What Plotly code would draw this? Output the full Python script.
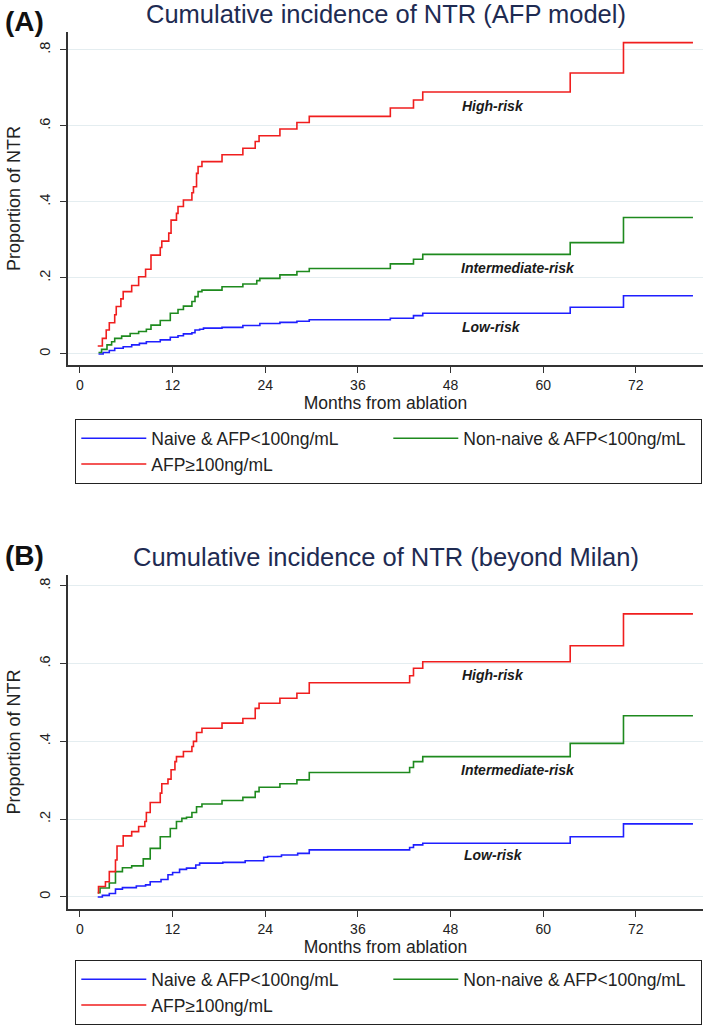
import plotly.graph_objects as go

# ---- data ----
series_names = ["Naive & AFP<100ng/mL", "Non-naive & AFP<100ng/mL", "AFP≥100ng/mL"]

# panel A: AFP model
a_naive_t = [2.4, 3.0, 3.8, 4.5, 5.6, 6.7, 7.7, 8.6, 10.4, 11.7, 12.7, 13.4, 14.5, 14.9, 15.5, 16.0,
             18.4, 21.1, 23.3, 25.9, 28.1, 29.7, 40.2, 43.2, 44.4, 63.5, 70.4, 79.4]
a_naive_v = [0.0, 0.004, 0.009, 0.015, 0.019, 0.024, 0.028, 0.032, 0.037, 0.044, 0.048, 0.053, 0.056, 0.063,
             0.065, 0.068, 0.070, 0.075, 0.080, 0.083, 0.086, 0.090, 0.094, 0.101, 0.107, 0.123, 0.153, 0.153]
a_nonnaive_t = [2.4, 2.8, 3.5, 4.1, 4.5, 5.4, 6.5, 7.6, 8.6, 9.2, 10.4, 11.7, 12.7, 13.4, 14.5, 14.9, 15.3,
                15.8, 18.4, 21.1, 22.9, 23.3, 25.9, 28.1, 29.7, 40.2, 43.2, 44.4, 63.5, 70.4, 79.4]
a_nonnaive_v = [0.004, 0.012, 0.024, 0.032, 0.041, 0.047, 0.054, 0.059, 0.065, 0.076, 0.088, 0.107, 0.117,
                0.126, 0.138, 0.151, 0.164, 0.168, 0.177, 0.184, 0.193, 0.199, 0.208, 0.217, 0.225, 0.237,
                0.249, 0.262, 0.293, 0.359, 0.359]
a_afp_t = [2.3, 2.9, 3.4, 3.8, 4.5, 4.7, 5.3, 5.6, 6.7, 7.6, 8.5, 9.2, 10.4, 10.6, 11.5, 11.8, 12.5, 12.7,
           13.4, 14.5, 14.7, 15.1, 15.3, 15.8, 18.4, 21.1, 22.7, 23.2, 25.9, 28.1, 29.7, 40.2, 43.2, 44.4,
           63.5, 70.4, 79.4]
a_afp_v = [0.021, 0.041, 0.063, 0.082, 0.103, 0.125, 0.145, 0.164, 0.180, 0.203, 0.223, 0.260, 0.280, 0.297,
           0.318, 0.352, 0.370, 0.388, 0.405, 0.424, 0.440, 0.475, 0.493, 0.506, 0.524, 0.541, 0.559, 0.574,
           0.592, 0.609, 0.625, 0.647, 0.668, 0.689, 0.739, 0.819, 0.819]

# panel B: beyond Milan
b_naive_t = [2.3, 2.9, 3.8, 4.6, 5.5, 7.3, 8.5, 9.1, 10.5, 11.4, 12.0, 12.9, 13.8, 15.0, 15.5, 18.5, 21.4,
             23.8, 24.3, 26.1, 28.2, 29.7, 42.7, 43.2, 44.4, 63.5, 70.4, 79.4]
b_naive_v = [0.0, 0.004, 0.009, 0.020, 0.024, 0.028, 0.031, 0.039, 0.045, 0.057, 0.063, 0.071, 0.074, 0.082,
             0.087, 0.089, 0.093, 0.102, 0.104, 0.108, 0.112, 0.121, 0.127, 0.134, 0.138, 0.155, 0.188, 0.188]
b_nonnaive_t = [2.3, 2.6, 3.8, 4.6, 5.5, 6.7, 8.2, 9.1, 10.4, 11.7, 12.5, 13.2, 13.8, 14.5, 15.1, 15.8, 18.4,
                21.1, 22.7, 23.2, 25.9, 28.1, 29.7, 42.7, 43.2, 44.4, 63.5, 70.4, 79.4]
b_nonnaive_v = [0.011, 0.023, 0.036, 0.065, 0.075, 0.080, 0.098, 0.125, 0.155, 0.176, 0.194, 0.202, 0.205,
                0.217, 0.232, 0.239, 0.248, 0.256, 0.271, 0.282, 0.291, 0.301, 0.320, 0.333, 0.348, 0.361,
                0.395, 0.466, 0.466]
b_afp_t = [2.3, 2.4, 3.3, 3.8, 4.6, 4.8, 5.6, 6.7, 7.6, 8.4, 8.6, 9.1, 10.4, 10.6, 11.4, 11.8, 12.3, 12.5,
           13.4, 14.5, 14.7, 15.1, 15.8, 18.4, 21.1, 22.7, 23.2, 25.9, 28.1, 29.7, 42.7, 43.2, 44.4, 63.5,
           70.4, 79.4]
b_afp_v = [0.010, 0.027, 0.039, 0.065, 0.095, 0.131, 0.157, 0.168, 0.181, 0.194, 0.217, 0.243, 0.267, 0.291,
           0.303, 0.327, 0.348, 0.361, 0.374, 0.387, 0.400, 0.423, 0.434, 0.447, 0.459, 0.485, 0.498, 0.511,
           0.524, 0.551, 0.569, 0.588, 0.605, 0.646, 0.728, 0.728]

x_ticks = [0, 12, 24, 36, 48, 60, 72]
y_ticks = [0, 0.2, 0.4, 0.6, 0.8]
y_ticktext = ["0", ".2", ".4", ".6", ".8"]

risk_labels = ["High-risk", "Intermediate-risk", "Low-risk"]
a_label_pos = [(53.5, 0.653), (56.7, 0.227), (53.3, 0.072)]
b_label_pos = [(53.5, 0.571), (56.7, 0.327), (53.5, 0.108)]

colors = ["#1f1fff", "#1e8a1e", "#f01e1e"]
FONT = "Liberation Sans, Arial, sans-serif"
AXIS_COLOR = "#333333"
GRID_COLOR = "#e4edf0"

fig = go.Figure()

panels = [
    ("x", "y", "legend", [(a_naive_t, a_naive_v), (a_nonnaive_t, a_nonnaive_v), (a_afp_t, a_afp_v)]),
    ("x2", "y2", "legend2", [(b_naive_t, b_naive_v), (b_nonnaive_t, b_nonnaive_v), (b_afp_t, b_afp_v)]),
]
for xa, ya, leg, curves in panels:
    for name, col, (t, v) in zip(series_names, colors, curves):
        fig.add_trace(go.Scatter(
            x=t, y=v, mode="lines", line=dict(color=col, width=1.6, shape="hv"),
            name=name, xaxis=xa, yaxis=ya, legend=leg, hoverinfo="skip"))

x_dom = [68 / 709, 703 / 709]
xaxis_common = dict(
    range=[-1.55, 80.7], tickvals=x_ticks, ticks="outside", ticklen=6, tickwidth=1.3,
    tickcolor=AXIS_COLOR, showline=True, linecolor=AXIS_COLOR, linewidth=1.5, showgrid=False,
    zeroline=False, tickfont=dict(family=FONT, size=14, color="#222"),
    title=dict(text="Months from ablation", font=dict(family=FONT, size=17.5, color="#222"), standoff=2),
    automargin=False,
)
yaxis_common = dict(
    tickvals=y_ticks, ticktext=y_ticktext, tickangle=-90, ticks="outside", ticklen=6, tickwidth=1.3,
    tickcolor=AXIS_COLOR, showline=True, linecolor=AXIS_COLOR, linewidth=1.5, showgrid=True,
    gridcolor=GRID_COLOR, gridwidth=1, zeroline=False, ticklabelstandoff=4,
    tickfont=dict(family=FONT, size=14.5, color="#222"),
    title=dict(text="Proportion of NTR", font=dict(family=FONT, size=18, color="#222"), standoff=12),
    automargin=False,
)

fig.update_layout(
    width=709, height=1026, margin=dict(l=0, r=0, t=0, b=0),
    plot_bgcolor="white", paper_bgcolor="white",
    xaxis=dict(domain=x_dom, anchor="y", **xaxis_common),
    yaxis=dict(domain=[1 - 365 / 1026, 1 - 32 / 1026], range=[-0.029, 0.847], anchor="x", **yaxis_common),
    xaxis2=dict(domain=x_dom, anchor="y2", **xaxis_common),
    yaxis2=dict(domain=[1 - 909 / 1026, 1 - 575 / 1026], range=[-0.031, 0.828], anchor="x2", **yaxis_common),
    showlegend=True,
)

legend_common = dict(
    orientation="h", xanchor="left", yanchor="top", x=75 / 709,
    bordercolor="#222", borderwidth=1.3, bgcolor="white",
    itemwidth=65, entrywidth=232, entrywidthmode="pixels",
    font=dict(family=FONT, size=17.5, color="#222"),
)
fig.update_layout(
    legend=dict(y=1 - 419 / 1026, **legend_common),
    legend2=dict(y=1 - 960 / 1026, **legend_common),
)

# panel letters and titles
for letter, title, ypix, lpix in [("(A)", "Cumulative incidence of NTR (AFP model)", 14, 21),
                                  ("(B)", "Cumulative incidence of NTR (beyond Milan)", 557, 555)]:
    fig.add_annotation(text=letter, xref="paper", yref="paper", x=3 / 709, y=1 - lpix / 1026,
                       xanchor="left", yanchor="middle", showarrow=False,
                       font=dict(family=FONT, size=28, color="#111", weight="bold"))
    fig.add_annotation(text=title, xref="paper", yref="paper", x=386 / 709, y=1 - ypix / 1026,
                       xanchor="center", yanchor="middle", showarrow=False,
                       font=dict(family=FONT, size=25.5, color="#1e2b52"))

# risk-group labels
for xr, yr, positions in [("x", "y", a_label_pos), ("x2", "y2", b_label_pos)]:
    for lab, (lx, ly) in zip(risk_labels, positions):
        fig.add_annotation(text=f"<b><i>{lab}</i></b>", xref=xr, yref=yr, x=lx, y=ly,
                           xanchor="center", yanchor="middle", showarrow=False,
                           font=dict(family=FONT, size=14, color="#1a1a1a"))

# the page body has a default 8px margin; drop it so the figure sits at the window origin
fig.write_html("out.html", config={"displayModeBar": False},
               post_script="document.body.style.margin='0';")
